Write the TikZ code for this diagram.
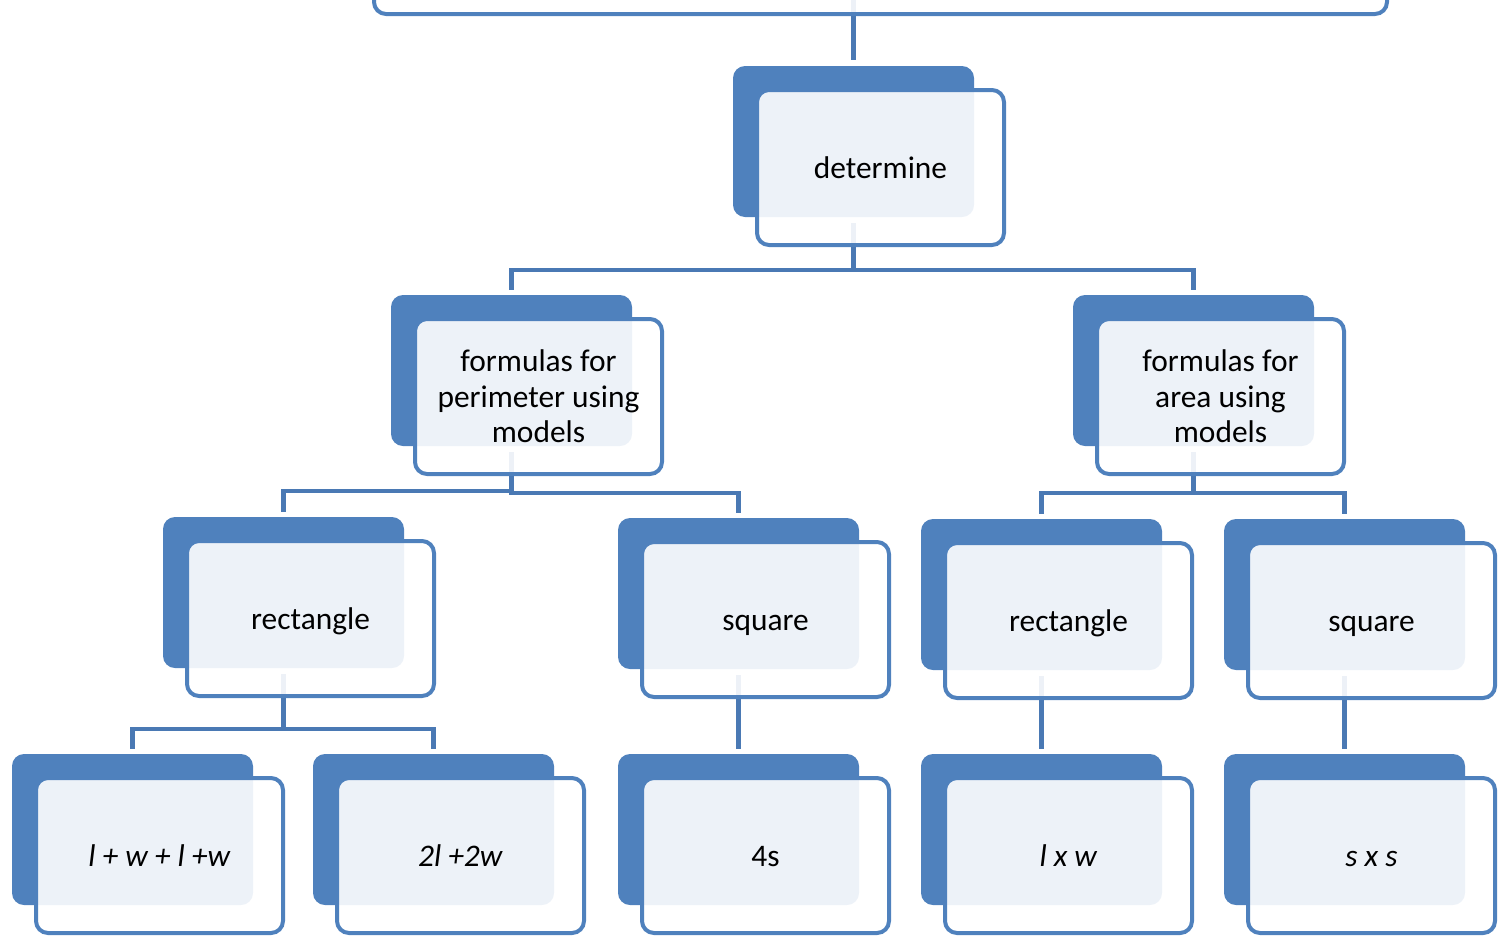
\documentclass[tikz,border=0pt]{standalone}
\usepackage{fontspec}
\setmainfont{Carlito}
\pgfdeclarelayer{links}
\pgfsetlayers{links,main}
\definecolor{cardblue}{HTML}{4F81BD}
\definecolor{linkblue}{HTML}{4A79B4}
\tikzset{
  backcard/.style={fill=cardblue, rounded corners=12pt, minimum width=241pt,
    minimum height=151pt, inner sep=0pt, outer sep=0pt},
  frontcard/.style={draw=cardblue, line width=4pt, fill=white, fill opacity=0.9,
    text opacity=1, rounded corners=12pt, minimum width=247pt, minimum height=155pt,
    inner sep=0pt, outer sep=0pt, align=center,
    font=\fontsize{31.4}{35.5}\selectfont},
  oneline/.style={text height=22pt, text depth=0pt},
  link/.style={draw=linkblue, line width=4.5pt},
}
% #1 extra options of the front card, #2 name,
% #3 left and #4 top of the blue back card, #5 label
\newcommand{\cardpair}[5][oneline]{%
  \node[backcard] (#2b) at (#3+120.5,#4+75.5) {};
  \node[frontcard, #1] (#2) at (#3+147.5,#4+101.5) {#5};
}
\begin{document}
\begin{tikzpicture}[x=1pt, y=-1pt]
\useasboundingbox (0,0) rectangle (1500,935);
\clip (0,0) rectangle (1500,935);

% top card, mostly above the page
\node[backcard, minimum width=1007pt] (topb) at (853.5,-89.5) {};
\node[frontcard, minimum width=1013pt] (top) at (880.5,-63.5) {};

\cardpair{det}{733}{66}{determine}
\cardpair[]{per}{391}{295}{formulas for\\perimeter using\\models}
\cardpair[]{area}{1073}{295}{formulas for\\area using\\models}
\cardpair{rectL}{163}{517}{rectangle}
\cardpair{sqL}{618}{518}{square}
\cardpair{rectR}{921}{519}{rectangle}
\cardpair{sqR}{1224}{519}{square}
\cardpair{lw}{12}{754}{\textit{l + w + l +w}}
\cardpair{tw}{313}{754}{\textit{2l +2w}}
\cardpair{fs}{618}{754}{4s}
\cardpair{lxw}{921}{754}{\textit{l x w}}
\cardpair{sxs}{1224}{754}{\textit{s x s}}

\begin{pgfonlayer}{links}
  \draw[link] (topb.south) -- ([yshift=6pt]detb.north);
  \draw[link] ([yshift=-6pt]detb.south) |- ([yshift=25pt]perb.north) -- ([yshift=5pt]perb.north);
  \draw[link] ([yshift=-6pt]detb.south) |- ([yshift=25pt]areab.north) -- ([yshift=5pt]areab.north);
  \draw[link] ([yshift=-6pt]perb.south) |- ([yshift=26pt]rectLb.north) -- ([yshift=5pt]rectLb.north);
  \draw[link] ([yshift=-6pt]perb.south) |- ([yshift=25pt]sqLb.north) -- ([yshift=5pt]sqLb.north);
  \draw[link] ([yshift=-6pt]areab.south) |- ([yshift=26pt]rectRb.north) -- ([yshift=5pt]rectRb.north);
  \draw[link] ([yshift=-6pt]areab.south) |- ([yshift=26pt]sqRb.north) -- ([yshift=5pt]sqRb.north);
  \draw[link] ([yshift=-6pt]rectLb.south) |- ([yshift=25pt]lwb.north) -- ([yshift=5pt]lwb.north);
  \draw[link] ([yshift=-6pt]rectLb.south) |- ([yshift=25pt]twb.north) -- ([yshift=5pt]twb.north);
  \draw[link] ([yshift=-6pt]sqLb.south) -- ([yshift=5pt]fsb.north);
  \draw[link] ([yshift=-6pt]rectRb.south) -- ([yshift=5pt]lxwb.north);
  \draw[link] ([yshift=-6pt]sqRb.south) -- ([yshift=5pt]sxsb.north);
\end{pgfonlayer}
\end{tikzpicture}
\end{document}
